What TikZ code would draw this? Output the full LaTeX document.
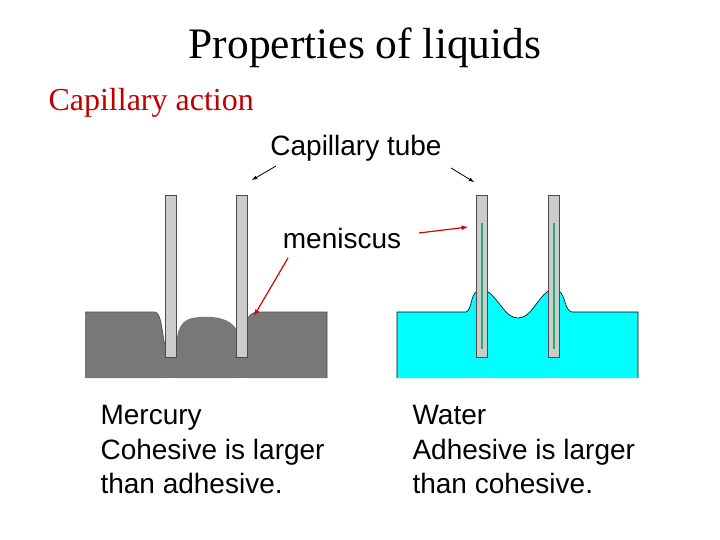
\documentclass[tikz,border=0pt]{standalone}
\usepackage{fontspec}
\setmainfont{Liberation Serif}
\setsansfont{Liberation Sans}
\definecolor{water}{RGB}{0,255,255}
\definecolor{merc}{RGB}{120,120,120}
\definecolor{glass}{RGB}{40,170,130}
\begin{document}
\begin{tikzpicture}[x=1pt,y=-1pt,
  tube/.style={fill=gray!40,draw=gray!60!black,line width=0.5pt},
  lbl/.style={font=\sffamily\fontsize{28}{34.5}\selectfont,anchor=west,align=left},
  redarr/.style={draw=red!85!black,line width=1.2pt,-latex},
  blkarr/.style={draw=black,line width=0.8pt,-latex}]
\useasboundingbox (0,0) rectangle (720,540);
\node (title) at (365,48) {\fontsize{43.5}{50}\selectfont Properties of liquids};
\node[anchor=west,text=red!75!black] (cap) at (45,103) {\fontsize{32}{38}\selectfont Capillary action};
\node (ct) at (356,148) {\sffamily\fontsize{28}{32}\selectfont Capillary tube};
\node (men) at (342,238) {\sffamily\fontsize{28}{32}\selectfont meniscus};
% mercury
\fill[merc] (85,312) -- (155,312) .. controls (162,313) and (162,335) .. (165,345) -- (165,378) -- (85,378) -- cycle;
\draw[black!70,line width=0.6pt] (85,312) -- (155,312) .. controls (162,313) and (162,335) .. (165,345);
\fill[merc] (176,345) .. controls (178,322) and (185,318) .. (200,317) .. controls (215,316) and (230,318) .. (237,330) -- (237,378) -- (176,378) -- cycle;
\fill[merc] (248,318) .. controls (251,313) and (254,312) .. (260,312) -- (327,312) -- (327,378) -- (248,378) -- cycle;
\draw[black!70,line width=0.6pt] (248,318) .. controls (251,313) and (254,312) .. (260,312) -- (327,312) -- (327,378);
\fill[merc] (160,355) rectangle (255,378);
\node[tube,minimum width=11pt,minimum height=162pt,inner sep=0pt] (t1) at (170.5,276) {};
\node[tube,minimum width=11pt,minimum height=162pt,inner sep=0pt] (t2) at (242,276) {};
% water
\fill[water] (397,312) -- (466,312) .. controls (472,310) and (470,296) .. (477,291) -- (477,378) -- (397,378) -- cycle;
\fill[water] (487,291) .. controls (500,300) and (505,318) .. (518,318) .. controls (531,318) and (536,300) .. (548,291) -- (548,378) -- (487,378) -- cycle;
\fill[water] (559,291) .. controls (566,296) and (564,310) .. (572,312) -- (638,312) -- (638,378) -- (559,378) -- cycle;
\fill[water] (470,350) rectangle (565,378);
\draw[black,line width=0.6pt] (397,378) -- (397,312) -- (466,312) .. controls (472,310) and (470,296) .. (477,291);
\draw[black,line width=0.6pt] (487,291) .. controls (500,300) and (505,318) .. (518,318) .. controls (531,318) and (536,300) .. (548,291);
\draw[black,line width=0.6pt] (559,291) .. controls (566,296) and (564,310) .. (572,312) -- (638,312) -- (638,378);
\node[tube,minimum width=11pt,minimum height=162pt,inner sep=0pt] (t3) at (482,276) {};
\node[tube,minimum width=11pt,minimum height=162pt,inner sep=0pt] (t4) at (554,276) {};
\draw[glass,line width=1.8pt] (482,223) -- (482,349);
\draw[glass,line width=1.8pt] (554,223) -- (554,349);
% arrows
\coordinate (a1) at (276,166); \coordinate (a2) at (451,168);
\coordinate (m1) at (288,258); \coordinate (m2) at (419,233);
\draw[blkarr] (a1) -- (252,180);
\draw[blkarr] (a2) -- (474,182);
\draw[redarr] (m1) -- (254,316);
\draw[redarr] (m2) -- (468,227);
\node[lbl] (hg) at (97,450) {Mercury\\Cohesive is larger\\than adhesive.};
\node[lbl] (wa) at (409,450) {Water\\Adhesive is larger\\than cohesive.};
\end{tikzpicture}
\end{document}
